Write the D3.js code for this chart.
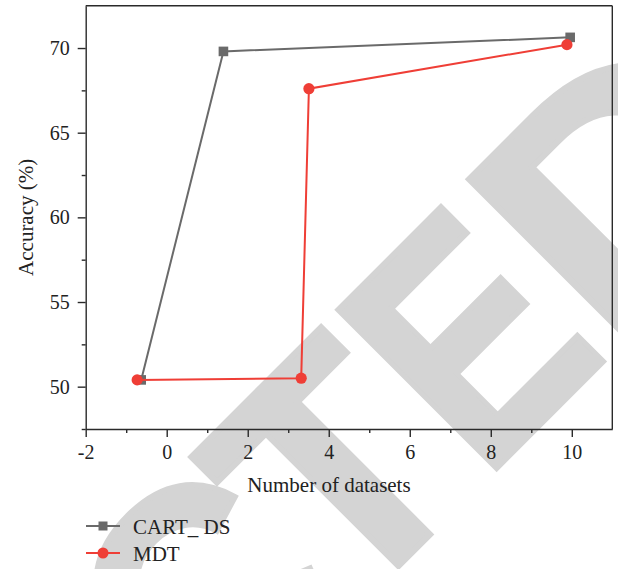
<!DOCTYPE html>
<html>
<head>
<meta charset="utf-8">
<script src="https://cdn.jsdelivr.net/npm/d3@7"></script>
<style>
  html, body { margin: 0; padding: 0; background: #fff; }
  svg { display: block; }
</style>
</head>
<body>
<script>
// ---- data ----
const seriesNames = ["CART_ DS", "MDT"];
const cartX = [-0.63, 1.40, 9.96];
const cartY = [50.4, 69.8, 70.63];
const mdtX = [-0.73, 3.32, 3.51, 9.88];
const mdtY = [50.4, 50.5, 67.6, 70.2];
const xTicks = [-2, 0, 2, 4, 6, 8, 10];
const yTicks = [50, 55, 60, 65, 70];
const xLabel = "Number of datasets";
const yLabel = "Accuracy (%)";
const watermark = "RETRACTED";

(function () {
const W = 618, H = 569;
const svg = d3.select("body").append("svg").attr("width", W).attr("height", H);

const pL = 85.7, pR = 612.3, pT = 5.7, pB = 429;
const x = d3.scaleLinear().domain([-2, 11]).range([pL, pR]);
const y = d3.scaleLinear().domain([47.5, 72.5]).range([pB, pT]);

// ---- watermark ----
const wmColor = "#d4d4d4";
const fs = 325;
const wm = svg.append("g").attr("transform", "translate(187,448) rotate(-45)");
const letters = [
  { ch: watermark.slice(0, 6), inkRight: -4, sx: 0.9, rightEdge: 0.674 },
  { ch: watermark[6], ink: 0, sx: 0.96, lsb: 0.022 },
  { ch: watermark[7], ink: 206, sx: 0.83, lsb: 0.073 },
  { ch: watermark[8], ink: 392, sx: 1.12, lsb: 0.073 }
];
letters.forEach((L, i) => {
  const t = wm.append("text")
    .attr("font-family", "Liberation Sans, Arial, sans-serif")
    .attr("font-weight", "bold")
    .attr("font-size", fs)
    .attr("fill", wmColor)
    .attr("stroke", wmColor)
    .attr("stroke-width", 6)
    .attr("stroke-linejoin", "miter")
    .text(L.ch);
  if (i === 0) {
    t.attr("text-anchor", "end")
     .attr("transform", `translate(${L.inkRight + (0.722 - L.rightEdge) * fs * L.sx},233) scale(${L.sx},1)`);
  } else {
    t.attr("transform", `translate(${L.ink - L.lsb * fs * L.sx},233) scale(${L.sx},1)`);
  }
});

// ---- axes ----
const axisColor = "#2a2a2a";
const serif = "Liberation Serif, Times New Roman, serif";

const xMinor = d3.range(-1, 11, 2);
const yMinor = d3.range(47.5, 72.5, 5);

const gx = svg.append("g").attr("transform", `translate(0,${pB})`);
gx.call(d3.axisBottom(x).tickValues(xTicks).tickFormat(d => String(d)).tickSize(8).tickSizeOuter(0));
gx.append("g").call(d3.axisBottom(x).tickValues(xMinor).tickFormat("").tickSize(4).tickSizeOuter(0))
  .select(".domain").remove();

const gy = svg.append("g").attr("transform", `translate(${pL},0)`);
gy.call(d3.axisLeft(y).tickValues(yTicks).tickFormat(d => String(d)).tickSize(8).tickSizeOuter(0));
gy.append("g").call(d3.axisLeft(y).tickValues(yMinor).tickFormat("").tickSize(4).tickSizeOuter(0))
  .select(".domain").remove();

[gx, gy].forEach(g => {
  g.attr("font-family", serif);
  g.selectAll("path.domain").attr("stroke", axisColor).attr("stroke-width", 1.4);
  g.selectAll("line").attr("stroke", axisColor).attr("stroke-width", 1.4);
  g.selectAll("text").attr("font-family", serif).attr("font-size", 20).attr("fill", "#222");
});
gx.selectAll("text").attr("dy", "0.95em");
gy.selectAll("text").attr("dx", "-0.25em");

svg.append("line").attr("x1", pL).attr("x2", pR).attr("y1", pT).attr("y2", pT)
  .attr("stroke", axisColor).attr("stroke-width", 1.4);
svg.append("line").attr("x1", pR).attr("x2", pR).attr("y1", pT).attr("y2", pB)
  .attr("stroke", axisColor).attr("stroke-width", 1.4);

svg.append("text").attr("x", 329).attr("y", 492)
  .attr("text-anchor", "middle").attr("font-family", serif).attr("font-size", 21).attr("fill", "#222")
  .text(xLabel);
svg.append("text").attr("transform", `translate(33,${(pT + pB) / 2}) rotate(-90)`)
  .attr("text-anchor", "middle").attr("font-family", serif).attr("font-size", 21).attr("fill", "#222")
  .text(yLabel);

// ---- series ----
const grayC = "#6a6a6a", redC = "#ef3e36";
const line = d3.line().x(d => x(d[0])).y(d => y(d[1]));
const cart = cartX.map((v, i) => [v, cartY[i]]);
const mdt = mdtX.map((v, i) => [v, mdtY[i]]);

svg.append("path").datum(cart).attr("d", line).attr("fill", "none").attr("stroke", grayC).attr("stroke-width", 2);
svg.selectAll("rect.cart").data(cart).enter().append("rect").attr("class", "cart")
  .attr("x", d => x(d[0]) - 4.8).attr("y", d => y(d[1]) - 4.8).attr("width", 9.6).attr("height", 9.6)
  .attr("fill", grayC);

svg.append("path").datum(mdt).attr("d", line).attr("fill", "none").attr("stroke", redC).attr("stroke-width", 2);
svg.selectAll("circle.mdt").data(mdt).enter().append("circle").attr("class", "mdt")
  .attr("cx", d => x(d[0])).attr("cy", d => y(d[1])).attr("r", 5.6).attr("fill", redC);

// ---- legend ----
const legend = svg.append("g");
[{ name: seriesNames[0], c: grayC, shape: "rect", yy: 526 }, { name: seriesNames[1], c: redC, shape: "circle", yy: 553 }]
  .forEach(s => {
    legend.append("line").attr("x1", 86).attr("x2", 120).attr("y1", s.yy).attr("y2", s.yy)
      .attr("stroke", s.c).attr("stroke-width", 2);
    if (s.shape === "rect") {
      legend.append("rect").attr("x", 103 - 4.5).attr("y", s.yy - 4.5).attr("width", 9).attr("height", 9).attr("fill", s.c);
    } else {
      legend.append("circle").attr("cx", 103).attr("cy", s.yy).attr("r", 5.5).attr("fill", s.c);
    }
    legend.append("text").attr("x", 133).attr("y", s.yy + 7.5)
      .attr("font-family", serif).attr("font-size", 21).attr("fill", "#222").text(s.name);
  });
})();
</script>
</body>
</html>
